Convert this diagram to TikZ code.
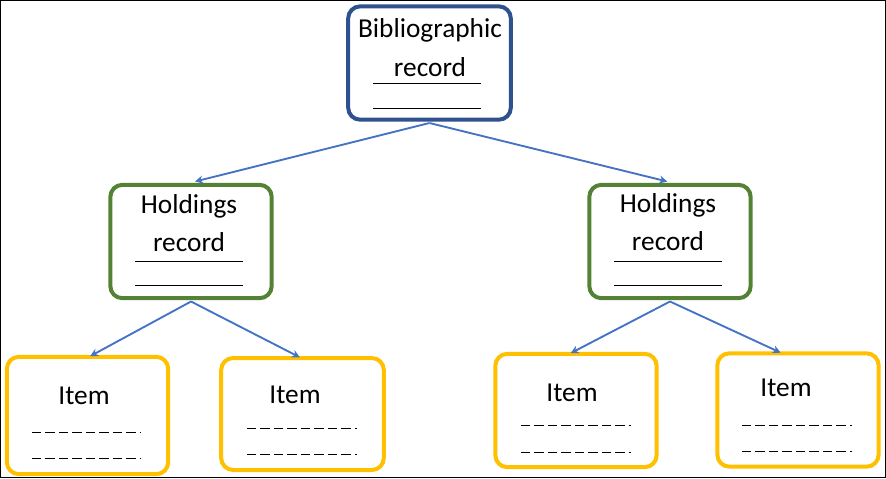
\documentclass[tikz,border=0pt]{standalone}
\usepackage{fontspec}
\setmainfont{Carlito}
\usetikzlibrary{arrows.meta}
\definecolor{bibc}{HTML}{2F528F}
\definecolor{holdc}{HTML}{548235}
\definecolor{itemc}{HTML}{FFC000}
\definecolor{arrc}{HTML}{4472C4}
\begin{document}
\begin{tikzpicture}[x=0.75pt,y=-0.75pt,
  box/.style={draw,rounded corners=9pt,line width=3pt,inner sep=0pt},
  conn/.style={draw=arrc,line width=1.4pt,-{Stealth[length=6pt,width=6pt]}},
  lbl/.style={font=\fontsize{20.5}{24}\selectfont,inner sep=0pt},
  rule/.style={line width=0.6pt},
  drule/.style={line width=0.6pt,dash pattern=on 7pt off 3.1pt}]
\draw[line width=0.8pt] (0.5,0.5) rectangle (885.5,477.5);
\useasboundingbox (0,0) rectangle (886,478);
% boxes
\node[box,draw=bibc,minimum width=122pt,minimum height=85pt] (bib) at (429.5,63) {};
\node[box,draw=holdc,minimum width=121pt,minimum height=85pt] (h1) at (191,241.5) {};
\node[box,draw=holdc,minimum width=121pt,minimum height=85pt] (h2) at (670,241.5) {};
\node[box,draw=itemc,minimum width=121pt,minimum height=88pt] (i1) at (87.5,415.5) {};
\node[box,draw=itemc,minimum width=122pt,minimum height=84pt] (i2) at (302.5,414) {};
\node[box,draw=itemc,minimum width=121pt,minimum height=85pt] (i3) at (576,410.5) {};
\node[box,draw=itemc,minimum width=121pt,minimum height=85pt] (i4) at (798,410) {};
% texts
\node[lbl] (tb1) at (430,30) {Bibliographic};
\node[lbl] (tb2) at (430,67) {record};
\draw[rule] (373,83) -- (481,83); \draw[rule] (373,108) -- (481,108);
\node[lbl] (th1a) at (189,206) {Holdings};
\node[lbl] (th1b) at (189,242) {record};
\draw[rule] (135,261) -- (243,261); \draw[rule] (135,285) -- (243,285);
\node[lbl] (th2a) at (668,205) {Holdings};
\node[lbl] (th2b) at (668,241) {record};
\draw[rule] (614,261) -- (722,261); \draw[rule] (614,285) -- (722,285);
\node[lbl] (ti1) at (84,396) {Item};
\draw[drule] (32,432) -- (140,432); \draw[drule] (32,458) -- (140,458);
\node[lbl] (ti2) at (295,395) {Item};
\draw[drule] (247,428) -- (357,428); \draw[drule] (247,454) -- (357,454);
\node[lbl] (ti3) at (572,393) {Item};
\draw[drule] (521,425) -- (631,425); \draw[drule] (521,452) -- (631,452);
\node[lbl] (ti4) at (786,388) {Item};
\draw[drule] (742,425) -- (852,425); \draw[drule] (742,451) -- (852,451);
% connectors
\draw[conn] ([yshift=-1pt]bib.south) -- ([xshift=3pt,yshift=1pt]h1.north);
\draw[conn] ([yshift=-1pt]bib.south) -- ([xshift=-2pt,yshift=1pt]h2.north);
\draw[conn] ([yshift=-1pt]h1.south) -- ([xshift=2pt,yshift=-1pt]i1.north);
\draw[conn] ([yshift=-1pt]h1.south) -- ([xshift=-2pt,yshift=-1pt]i2.north);
\draw[conn] ([yshift=-1pt]h2.south) -- ([xshift=-4pt,yshift=-1pt]i3.north);
\draw[conn] ([yshift=-1pt]h2.south) -- ([xshift=-13pt,yshift=-1pt]i4.north);
\end{tikzpicture}
\end{document}
